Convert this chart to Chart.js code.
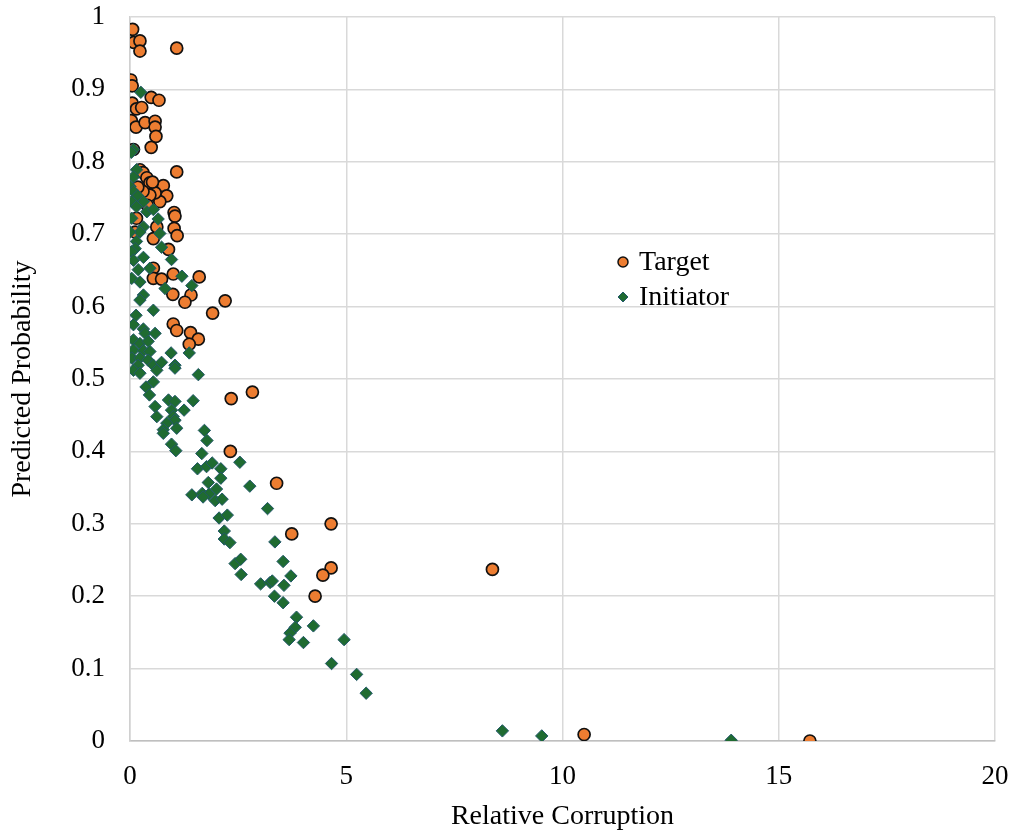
<!DOCTYPE html>
<html>
<head>
<meta charset="utf-8">
<script src="https://cdn.jsdelivr.net/npm/chart.js@4/dist/chart.umd.min.js"></script>
<style>
  html, body { margin: 0; padding: 0; background: #fff; }
  #wrap { width: 1015px; height: 835px; }
</style>
</head>
<body>
<div id="wrap"><canvas id="myChart" width="1015" height="835"></canvas></div>
<script>
const targetX = [0.06, 0.09, 0.23, 0.23, 1.08, 0.02, 0.05, 0.49, 0.67, 0.05,
  0.15, 0.27, 0.03, 0.14, 0.35, 0.58, 0.58, 0.60, 0.49, 0.08,
  0.23, 0.30, 0.39, 0.46, 1.08, 0.77, 0.85, 0.69, 0.58, 0.46,
  0.30, 1.02, 1.04, 1.02, 1.09, 0.54, 0.62, 0.12, 0.15, 0.89,
  0.54, 0.54, 0.73, 1.00, 1.60, 0.99, 1.41, 1.27, 2.20, 1.91,
  1.00, 1.08, 1.40, 1.58, 1.37, 2.34, 2.83, 2.32, 3.39, 4.65,
  3.74, 4.65, 4.46, 4.28, 8.38, 10.50, 15.72, 0.18, 0.40, 0.52];
const targetY = [0.983, 0.965, 0.967, 0.953, 0.957, 0.913, 0.905, 0.889, 0.885, 0.881,
  0.873, 0.875, 0.857, 0.848, 0.854, 0.856, 0.848, 0.835, 0.820, 0.817,
  0.789, 0.785, 0.778, 0.771, 0.786, 0.767, 0.753, 0.745, 0.757, 0.754,
  0.759, 0.730, 0.725, 0.708, 0.698, 0.694, 0.710, 0.703, 0.722, 0.679,
  0.653, 0.639, 0.638, 0.645, 0.641, 0.617, 0.616, 0.606, 0.608, 0.591,
  0.576, 0.567, 0.564, 0.555, 0.548, 0.473, 0.482, 0.400, 0.356, 0.300,
  0.286, 0.239, 0.229, 0.200, 0.237, 0.009, 0.000, 0.765, 0.740, 0.772];

const initiatorX = [0.25, 0.08, 0.03, 0.15, 0.08, 0.00, 0.08, 0.18, 0.31, 0.04,
  0.15, 0.39, 0.54, 0.65, 0.04, 0.31, 0.23, 0.69, 0.00, 0.15,
  0.12, 0.73, 0.04, 0.31, 0.96, 0.08, 0.19, 0.46, 0.04, 0.23,
  1.20, 1.43, 0.81, 0.31, 0.23, 0.54, 0.14, 0.08, 0.31, 0.35,
  0.58, 0.08, 0.23, 0.42, 0.08, 0.31, 0.46, 0.04, 0.23, 0.42,
  0.19, 0.54, 0.73, 0.08, 0.23, 0.62, 0.95, 1.37, 1.04, 1.04,
  1.58, 0.54, 0.37, 0.45, 0.89, 1.04, 1.46, 0.58, 0.96, 1.25,
  0.62, 1.00, 1.04, 0.85, 1.08, 0.77, 0.77, 1.72, 1.78, 0.96,
  1.06, 1.66, 2.54, 1.56, 1.77, 1.90, 2.10, 2.10, 2.77, 1.81,
  1.43, 1.67, 1.83, 2.00, 1.69, 1.97, 2.13, 3.18, 2.06, 2.25,
  2.18, 2.18, 2.31, 3.35, 2.43, 2.56, 2.57, 3.54, 3.72, 3.02,
  3.24, 3.29, 3.56, 3.34, 3.54, 3.85, 4.24, 3.82, 3.70, 4.01,
  3.68, 4.95, 4.66, 5.24, 5.46, 8.61, 9.52, 13.90];
const initiatorY = [0.896, 0.817, 0.813, 0.789, 0.779, 0.766, 0.759, 0.753, 0.745, 0.745,
  0.738, 0.731, 0.734, 0.721, 0.722, 0.710, 0.703, 0.701, 0.703, 0.690,
  0.680, 0.682, 0.676, 0.668, 0.665, 0.664, 0.651, 0.653, 0.639, 0.634,
  0.642, 0.629, 0.625, 0.616, 0.609, 0.595, 0.588, 0.575, 0.569, 0.563,
  0.563, 0.554, 0.549, 0.552, 0.540, 0.539, 0.538, 0.529, 0.529, 0.526,
  0.519, 0.519, 0.523, 0.512, 0.508, 0.512, 0.536, 0.536, 0.519, 0.515,
  0.506, 0.496, 0.489, 0.478, 0.471, 0.469, 0.470, 0.462, 0.457, 0.457,
  0.448, 0.448, 0.443, 0.439, 0.432, 0.430, 0.425, 0.429, 0.415, 0.410,
  0.401, 0.397, 0.385, 0.376, 0.379, 0.384, 0.376, 0.363, 0.352, 0.357,
  0.340, 0.342, 0.341, 0.348, 0.337, 0.332, 0.334, 0.321, 0.308, 0.312,
  0.290, 0.279, 0.274, 0.275, 0.245, 0.251, 0.230, 0.248, 0.228, 0.217,
  0.219, 0.221, 0.215, 0.200, 0.191, 0.171, 0.159, 0.157, 0.149, 0.136,
  0.140, 0.140, 0.107, 0.092, 0.066, 0.014, 0.007, 0.001];

const seriesNames = ["Target", "Initiator"];

const FONT = "'Liberation Serif', 'Times New Roman', serif";
const ORANGE = "#ed7d31";
const GREEN = "#1f6b31";
const GREEN_EDGE = "#22586a";

function toPoints(xs, ys) {
  return xs.map((x, i) => ({x, y: ys[i]}));
}

// legend drawn inside the plot, like the original
const insideLegend = {
  id: "insideLegend",
  afterDraw(chart) {
    const ctx = chart.ctx;
    const rows = [
      {label: seriesNames[0], y: 262, style: "circle", r: 5, fill: ORANGE, edge: "#111", bw: 1.5},
      {label: seriesNames[1], y: 297, style: "rectRot", r: 5, fill: GREEN, edge: GREEN_EDGE, bw: 1}
    ];
    ctx.save();
    rows.forEach(row => {
      ctx.fillStyle = row.fill;
      ctx.strokeStyle = row.edge;
      ctx.lineWidth = row.bw;
      Chart.helpers.drawPoint(ctx, {pointStyle: row.style, radius: row.r, borderWidth: row.bw}, 623, row.y);
      ctx.fillStyle = "#000";
      ctx.font = "28px " + FONT;
      ctx.textBaseline = "middle";
      ctx.textAlign = "left";
      ctx.fillText(row.label, 639, row.y + 1);
    });
    ctx.restore();
  }
};

new Chart(document.getElementById("myChart"), {
  type: "scatter",
  data: {
    datasets: [
      {
        label: seriesNames[0],
        data: toPoints(targetX, targetY),
        pointStyle: "circle",
        pointRadius: 6,
        pointHoverRadius: 6,
        backgroundColor: ORANGE,
        borderColor: "#111",
        borderWidth: 1.7,
        order: 2
      },
      {
        label: seriesNames[1],
        data: toPoints(initiatorX, initiatorY),
        pointStyle: "rectRot",
        pointRadius: 6.2,
        pointHoverRadius: 6.2,
        backgroundColor: GREEN,
        borderColor: GREEN_EDGE,
        borderWidth: 1,
        order: 1
      }
    ]
  },
  options: {
    responsive: false,
    animation: false,
    events: [],
    layout: {padding: {left: 0, right: 20, top: 17, bottom: 0}},
    plugins: {
      legend: {display: false},
      tooltip: {enabled: false}
    },
    scales: {
      x: {
        type: "linear",
        min: 0,
        max: 20,
        ticks: {stepSize: 5, color: "#000", padding: 20, font: {family: FONT, size: 27}},
        grid: {color: "#d9d9d9", lineWidth: 1.5, drawTicks: false},
        border: {color: "#bfbfbf", width: 1.5},
        title: {display: true, text: "Relative Corruption", color: "#000",
                font: {family: FONT, size: 28}, padding: {top: 0, bottom: 2}},
        afterFit(scale) {
          scale.height = 94;
          scale.paddingLeft = 0;
          scale.paddingRight = 0;
        }
      },
      y: {
        type: "linear",
        min: 0,
        max: 1,
        ticks: {
          stepSize: 0.1,
          color: "#000",
          padding: 25,
          font: {family: FONT, size: 27},
          callback: v => String(Number(v.toFixed(1)))
        },
        grid: {color: "#d9d9d9", lineWidth: 1.5, drawTicks: false},
        border: {color: "#d0d0d0", width: 1.5},
        title: {display: true, text: "Predicted Probability", color: "#000",
                font: {family: FONT, size: 28}, padding: {top: 6, bottom: 0}},
        afterFit(scale) {
          scale.width = 130;
          scale.paddingTop = 0;
          scale.paddingBottom = 0;
        }
      }
    }
  },
  plugins: [insideLegend]
});
</script>
</body>
</html>
